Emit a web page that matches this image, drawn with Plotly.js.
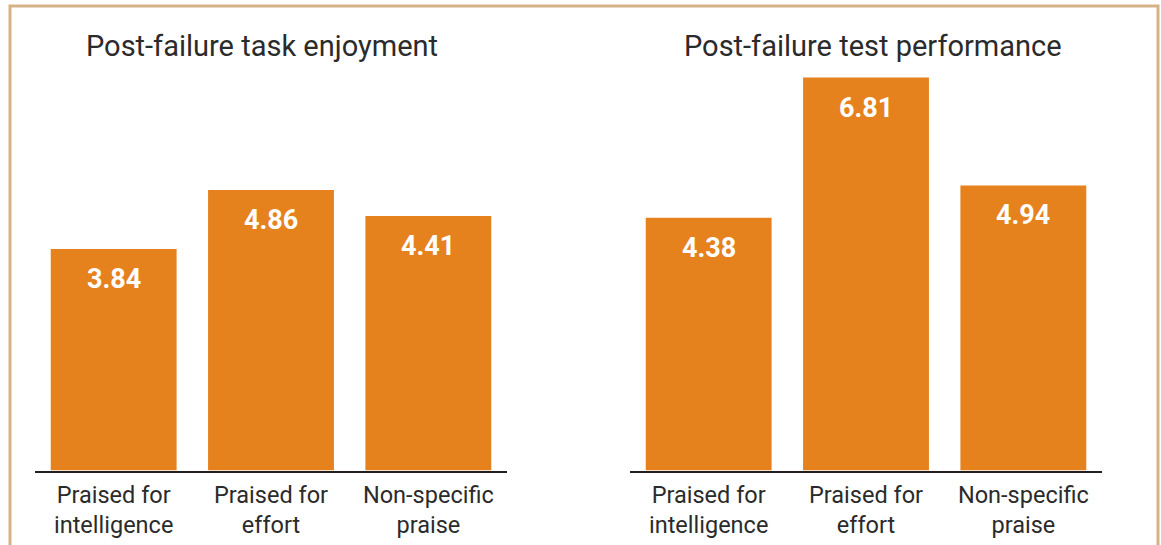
<!DOCTYPE html>
<html>
<head>
<meta charset="utf-8">
<script src="https://cdn.plot.ly/plotly-3.0.1.min.js"></script>
<style>html,body{margin:0;padding:0;background:#fff;}#chart{width:1161px;height:545px;}</style>
</head>
<body>
<div id="chart"></div>
<script>
const categories = ["Praised for<br>intelligence", "Praised for<br>effort", "Non-specific<br>praise"];
const enjoyment = [3.84, 4.86, 4.41];
const performance = [4.38, 6.81, 4.94];
const panelTitles = ["Post-failure task enjoyment", "Post-failure test performance"];

const barColor = "#E6821E";
const textColor = "#2b2b2b";
const W = 1161, H = 545;
const yMax = 470.5 / 57.7;

const traces = [
  {type: "bar", x: categories, y: enjoyment, xaxis: "x", yaxis: "y", marker: {color: barColor}, hoverinfo: "none"},
  {type: "bar", x: categories, y: performance, xaxis: "x2", yaxis: "y2", marker: {color: barColor}, hoverinfo: "none"}
];

const annotations = [];
[[enjoyment, "x", "y"], [performance, "x2", "y2"]].forEach(([vals, xa, ya]) => {
  vals.forEach((v, i) => {
    annotations.push({
      x: categories[i], y: v, xref: xa, yref: ya,
      text: "<b>" + v.toFixed(2) + "</b>",
      showarrow: false, yanchor: "top", yshift: -12,
      font: {family: "Roboto, sans-serif", size: 27, color: "#ffffff"}
    });
  });
});
const titleX = [261.5 / W, 872.5 / W];
panelTitles.forEach((t, i) => {
  annotations.push({
    text: t, xref: "paper", yref: "paper", x: titleX[i], y: 1 - 46 / H,
    xanchor: "center", yanchor: "middle", showarrow: false,
    font: {family: "Roboto, sans-serif", size: 29, color: textColor}
  });
});

const xaxisBase = {
  showline: true, linecolor: "#231f20", linewidth: 2, showgrid: false, zeroline: false,
  ticks: "", ticklabelstandoff: 2,
  tickfont: {family: "Roboto, sans-serif", size: 23.5, color: textColor}, fixedrange: true
};
const yaxisBase = {visible: false, range: [0, yMax], domain: [(H - 470.5) / H, 1], fixedrange: true};

const layout = {
  width: W, height: H,
  margin: {l: 0, r: 0, t: 0, b: 0},
  paper_bgcolor: "#ffffff", plot_bgcolor: "#ffffff",
  showlegend: false, bargap: 0.2,
  xaxis: Object.assign({}, xaxisBase, {domain: [35 / W, 507 / W], anchor: "y"}),
  xaxis2: Object.assign({}, xaxisBase, {domain: [630 / W, 1102 / W], anchor: "y2"}),
  yaxis: Object.assign({}, yaxisBase, {anchor: "x"}),
  yaxis2: Object.assign({}, yaxisBase, {anchor: "x2"}),
  annotations: annotations,
  shapes: [{
    type: "rect", xref: "paper", yref: "paper",
    x0: 10 / W, x1: 1158 / W, y0: -0.2, y1: 1 - 6 / H,
    line: {color: "#D6B386", width: 3}, fillcolor: "rgba(0,0,0,0)", layer: "below"
  }]
};

Plotly.newPlot("chart", traces, layout, {displayModeBar: false, staticPlot: true});
</script>
</body>
</html>
